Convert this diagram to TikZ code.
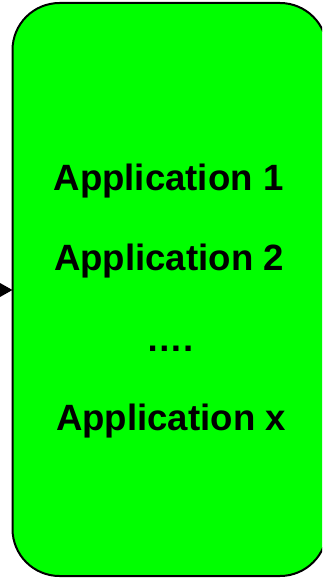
\documentclass[tikz,border=0pt]{standalone}
\usepackage{fontspec}
\setmainfont{Liberation Sans}
\usetikzlibrary{arrows.meta}
\definecolor{appgreen}{RGB}{0,255,0}
\tikzset{
  appbox/.style={draw=black, line width=2pt, fill=appgreen, rounded corners=47pt},
  applabel/.style={anchor=base, inner sep=0pt, font=\bfseries\fontsize{36.6pt}{40pt}\selectfont},
  feed/.style={line width=2pt, -{Triangle[length=13pt, width=14pt]}}
}
\begin{document}
\begin{tikzpicture}[x=1pt, y=1pt]
  \path[use as bounding box] (0,0) rectangle (322,-578);
  \clip (0,0) rectangle (322,-578);
  % the application container, its right side runs past the frame
  \draw[appbox] (12.5,-3) rectangle (327,-576);
  \coordinate (boxwest) at (12.5,-290);
  % list of hosted applications
  \node[applabel] (app1) at (168.5,-190) {Application 1};
  \node[applabel] (app2) at (169,-270) {Application 2};
  \node[applabel] (dots) at (170,-351) {….};
  \node[applabel] (appx) at (171,-430) {Application x};
  % incoming connector
  \coordinate (src) at (-40,-290);
  \draw[feed] (src) -- (boxwest);
\end{tikzpicture}
\end{document}
